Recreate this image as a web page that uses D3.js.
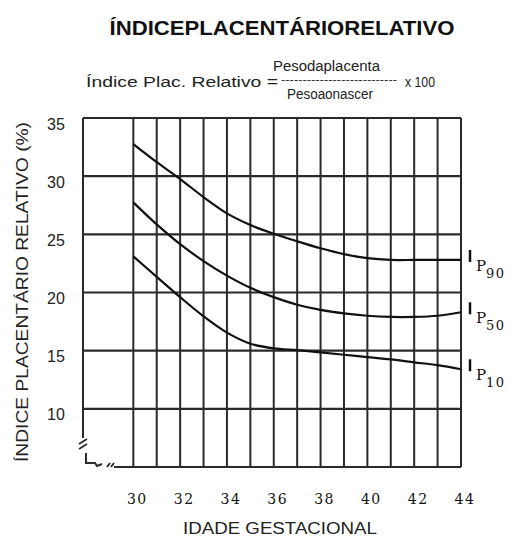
<!DOCTYPE html>
<html>
<head>
<meta charset="utf-8">
<script src="https://cdn.jsdelivr.net/npm/d3@7"></script>
<style>
  body { margin: 0; background: #fff; }
  svg { display: block; }
</style>
</head>
<body>
<svg></svg>
<script>
const w = 513;
const h = 539;
const svg = d3.select('svg').attr('width', w).attr('height', h);

// data
const ages = [30, 31, 32, 33, 34, 35, 36, 37, 38, 39, 40, 41, 42, 43, 44];
const p90 = [32.75, 31.2, 29.75, 28.2, 26.8, 25.8, 25.05, 24.4, 23.8, 23.3, 22.95, 22.8, 22.8, 22.8, 22.8];
const p50 = [27.75, 25.85, 24.15, 22.7, 21.45, 20.4, 19.6, 18.95, 18.5, 18.2, 18.0, 17.9, 17.9, 18.0, 18.3];
const p10 = [23.1, 21.35, 19.6, 17.95, 16.55, 15.6, 15.2, 15.05, 14.85, 14.65, 14.45, 14.25, 14.0, 13.75, 13.4];
const seriesNames = ['90', '50', '10'];
const xTicks = [30, 32, 34, 36, 38, 40, 42, 44];
const yTicks = [10, 15, 20, 25, 30, 35];

const series = [p90, p50, p10];

const xScale = d3.scaleLinear().domain([27.85, 44]).range([83, 461]);
const yScale = d3.scaleLinear().domain([5, 35]).range([467, 118]);

const gridColor = '#2a2a2a';

// vertical grid lines (one per week)
svg.append('g')
  .selectAll('line')
  .data(ages)
  .enter()
  .append('line')
  .attr('x1', (d) => xScale(d))
  .attr('x2', (d) => xScale(d))
  .attr('y1', yScale(35))
  .attr('y2', yScale(5))
  .attr('stroke', gridColor)
  .attr('stroke-width', 2);

// horizontal grid lines
svg.append('g')
  .selectAll('line')
  .data(yTicks)
  .enter()
  .append('line')
  .attr('x1', xScale(27.85))
  .attr('x2', xScale(44))
  .attr('y1', (d) => yScale(d))
  .attr('y2', (d) => yScale(d))
  .attr('stroke', gridColor)
  .attr('stroke-width', 2.2);

// frame: left edge with break mark, bottom edge
const x0 = xScale(27.85);
const yb = yScale(5);
svg.append('line')
  .attr('x1', x0).attr('x2', x0)
  .attr('y1', yScale(35)).attr('y2', yb - 29)
  .attr('stroke', gridColor).attr('stroke-width', 2);
svg.append('path')
  .attr('d', `M${x0 - 4},${yb - 23} l8,-5 M${x0 - 4},${yb - 18} l8,-5`)
  .attr('fill', 'none').attr('stroke', gridColor).attr('stroke-width', 1.8);
svg.append('path')
  .attr('d', `M${x0 + 3},${yb - 14} L${x0 + 3},${yb - 4} L${x0 + 12},${yb - 4} L${x0 + 14},${yb - 1} L${x0 + 19},${yb - 3} M${x0 + 24},${yb} l3,-4 M${x0 + 28},${yb} l3,-4 M${x0 + 31},${yb} L${xScale(44)},${yb}`)
  .attr('fill', 'none').attr('stroke', gridColor).attr('stroke-width', 2);

// curves
const line = d3.line()
  .x((d, i) => xScale(ages[i]))
  .y((d) => yScale(d))
  .curve(d3.curveCatmullRom.alpha(0.5));

svg.append('g')
  .selectAll('path')
  .data(series)
  .enter()
  .append('path')
  .attr('d', line)
  .attr('fill', 'none')
  .attr('stroke', '#111')
  .attr('stroke-width', 2.2);

// percentile labels at the right end
const labels = svg.append('g')
  .selectAll('g')
  .data(series)
  .enter()
  .append('g')
  .attr('transform', (d) => `translate(${xScale(44) + 9}, ${yScale(d[d.length - 1]) - 4})`);

labels.append('line')
  .attr('x1', 0).attr('x2', 0)
  .attr('y1', -6).attr('y2', 6)
  .attr('stroke', '#111').attr('stroke-width', 2.5);

const pText = labels.append('text')
  .attr('x', 6)
  .attr('y', 15)
  .attr('font-family', 'DejaVu Serif, serif')
  .attr('font-size', 15)
  .attr('fill', '#111');
pText.append('tspan').text('P');
pText.append('tspan')
  .attr('dy', 7)
  .attr('font-size', 13)
  .attr('letter-spacing', 1.5)
  .text((d, i) => seriesNames[i]);

// x tick labels
svg.append('g')
  .selectAll('text')
  .data(xTicks)
  .enter()
  .append('text')
  .attr('x', (d) => xScale(d) + 4)
  .attr('y', 504)
  .attr('text-anchor', 'middle')
  .attr('font-family', 'DejaVu Serif, serif')
  .attr('font-size', 14)
  .attr('letter-spacing', 1.5)
  .attr('fill', '#111')
  .text((d) => d);

// y tick labels
svg.append('g')
  .selectAll('text')
  .data(yTicks)
  .enter()
  .append('text')
  .attr('x', 56)
  .attr('y', (d) => yScale(d) + 6)
  .attr('dy', '0.35em')
  .attr('text-anchor', 'middle')
  .attr('font-family', 'Liberation Sans, Arial, sans-serif')
  .attr('font-size', 16)
  .attr('fill', '#222')
  .text((d) => d);

// axis titles
svg.append('text')
  .attr('transform', 'translate(28, 292) rotate(-90)')
  .attr('text-anchor', 'middle')
  .attr('font-family', 'Liberation Sans, Arial, sans-serif')
  .attr('font-size', 17)
  .attr('fill', '#222')
  .attr('textLength', 340)
  .attr('lengthAdjust', 'spacingAndGlyphs')
  .text('ÍNDICE  PLACENTÁRIO  RELATIVO  (%)');

svg.append('text')
  .attr('x', 280)
  .attr('y', 534)
  .attr('text-anchor', 'middle')
  .attr('font-family', 'Liberation Sans, Arial, sans-serif')
  .attr('font-size', 17)
  .attr('fill', '#222')
  .attr('textLength', 194)
  .attr('lengthAdjust', 'spacingAndGlyphs')
  .text('IDADE  GESTACIONAL');

// title and formula
svg.append('text')
  .attr('x', 282)
  .attr('y', 35)
  .attr('text-anchor', 'middle')
  .attr('font-family', 'Liberation Sans, Arial, sans-serif')
  .attr('font-weight', 'bold')
  .attr('font-size', 21)
  .attr('word-spacing', -6)
  .attr('fill', '#111')
  .attr('textLength', 345)
  .attr('lengthAdjust', 'spacingAndGlyphs')
  .text('ÍNDICE PLACENTÁRIO RELATIVO');

const formula = svg.append('g')
  .attr('font-family', 'Liberation Sans, Arial, sans-serif')
  .attr('fill', '#222');

formula.append('text')
  .attr('x', 86).attr('y', 87)
  .attr('font-size', 15)
  .attr('textLength', 192)
  .attr('lengthAdjust', 'spacingAndGlyphs')
  .text('Índice Plac. Relativo =');

formula.append('text')
  .attr('x', 281).attr('y', 83)
  .attr('font-size', 11)
  .attr('textLength', 116)
  .attr('lengthAdjust', 'spacingAndGlyphs')
  .text('---------------------------');

formula.append('text')
  .attr('x', 405).attr('y', 87)
  .attr('font-size', 15)
  .attr('textLength', 30)
  .attr('lengthAdjust', 'spacingAndGlyphs')
  .text('x 100');

formula.append('text')
  .attr('x', 273).attr('y', 71)
  .attr('font-size', 14)
  .attr('word-spacing', -4)
  .attr('textLength', 107)
  .attr('lengthAdjust', 'spacingAndGlyphs')
  .text('Peso da placenta');

formula.append('text')
  .attr('x', 287).attr('y', 99)
  .attr('font-size', 14)
  .attr('word-spacing', -4)
  .attr('textLength', 86)
  .attr('lengthAdjust', 'spacingAndGlyphs')
  .text('Peso ao nascer');
</script>
</body>
</html>
